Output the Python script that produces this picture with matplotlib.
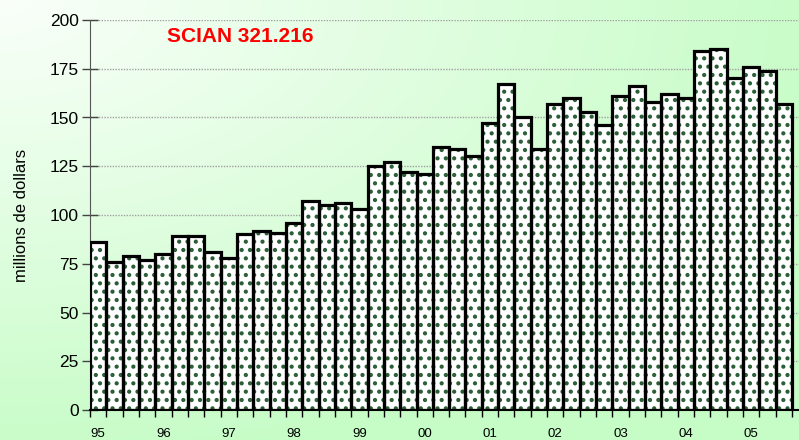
import matplotlib
matplotlib.use("Agg")
import matplotlib.pyplot as plt
import numpy as np

plt.rcParams['font.family'] = ['Liberation Sans', 'DejaVu Sans']
plt.rcParams['hatch.linewidth'] = 1.8

# Valeurs trimestrielles, 1995 T1 à 2005 T3 (millions de dollars)
values = [86, 76, 79, 77, 80, 89, 89, 81, 78, 90, 92, 91, 96, 107, 105, 106,
          103, 125, 127, 122, 121, 135, 134, 130, 147, 167, 150, 134, 157, 160,
          153, 146, 161, 166, 158, 162, 160, 184, 185, 170, 176, 174, 157]
year_labels = ['95', '96', '97', '98', '99', '00', '01', '02', '03', '04', '05']
y_ticks = [0, 25, 50, 75, 100, 125, 150, 175, 200]

fig = plt.figure(figsize=(7.99, 4.40), dpi=100)

# fond en dégradé blanc -> vert clair
bg = fig.add_axes([0, 0, 1, 1], zorder=-10)
xx, yy = np.meshgrid(np.linspace(0, 1, 400), np.linspace(0, 1, 220))
t = np.clip(np.sqrt(xx**2 + yy**2) / 1.05, 0, 1)
c0 = np.array([0.98, 1.0, 0.98])
c1 = np.array([0.78, 0.99, 0.78])
img = c0[None, None, :] * (1 - t[..., None]) + c1[None, None, :] * t[..., None]
bg.imshow(img, aspect='auto', extent=[0, 1, 0, 1], origin='upper')
bg.axis('off')

ax = fig.add_axes([90 / 799, 30 / 440, 709 / 799, 390 / 440])
ax.patch.set_alpha(0)

x = np.arange(len(values))
# remplissage pointillé vert
ax.bar(x, values, width=1.0, color='white', edgecolor='#2a5e36', linewidth=0,
       hatch='..', zorder=2)
# contours noirs
ax.bar(x, values, width=1.0, color='none', edgecolor='black', linewidth=2.3, zorder=3)

slot = 702 / len(values)
ax.set_xlim(-0.5, -0.5 + 709 / slot)
ax.set_ylim(0, 200)

ax.set_yticks(y_ticks)
ax.yaxis.grid(True, linestyle=(0, (1, 1)), color='#a0a0a0', linewidth=1, zorder=0)
ax.set_axisbelow(True)
ax.tick_params(axis='y', direction='inout', length=12, width=1, color='#444444',
               labelsize=12.5, pad=2)

ax.set_xticks(np.arange(0, len(values), 4))
ax.set_xticklabels(year_labels)
ax.set_xticks(np.arange(-0.5, len(values) + 0.5, 1), minor=True)
ax.tick_params(axis='x', which='major', length=0, labelsize=9.5, pad=13)
ax.tick_params(axis='x', which='minor', direction='out', length=5, width=1)

for s in ['top', 'right']:
    ax.spines[s].set_visible(False)
ax.spines['left'].set_color('#555555')
ax.spines['bottom'].set_color('black')
ax.spines['bottom'].set_linewidth(1.5)

fig.text(22 / 799, 1 - 215 / 440, 'millions de dollars', rotation=90,
         ha='center', va='center', fontsize=12)
fig.text(240 / 799, 1 - 37 / 440, 'SCIAN 321.216', color='#ff0000',
         fontsize=15, fontweight='bold', ha='center', va='center')

fig.savefig('out.png', dpi=100)
